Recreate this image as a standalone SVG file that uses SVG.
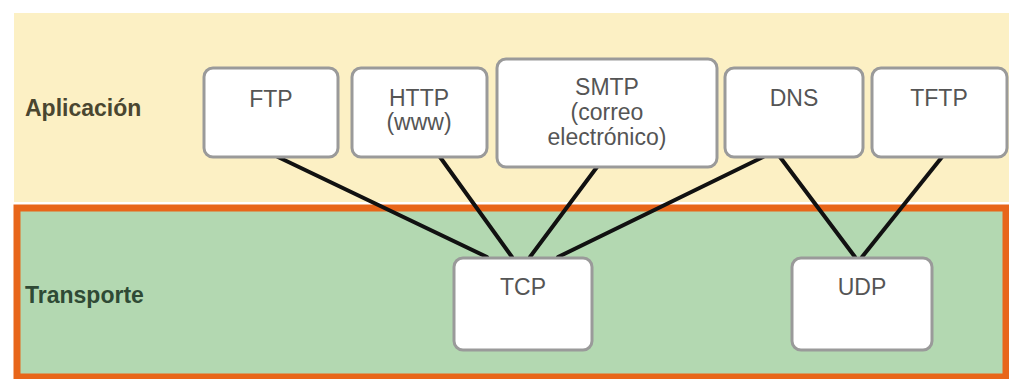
<svg xmlns="http://www.w3.org/2000/svg" width="1009" height="379" viewBox="0 0 1009 379">
<style>
.node rect{fill:#ffffff;stroke:#9a9a9a;stroke-width:3}
.lbl{font-family:"Liberation Sans",Arial,sans-serif;font-size:23px;fill:#555555;text-anchor:middle}
.layer{font-family:"Liberation Sans",Arial,sans-serif;font-size:23px;font-weight:bold}
.conn line{stroke:#111111;stroke-width:4;stroke-linecap:round}
</style>
<rect width="1009" height="379" fill="#ffffff"/>
<g id="layer-aplicacion">
<rect x="14" y="13" width="995" height="189" fill="#fcf0c4"/>
<text class="layer" x="25" y="116" fill="#4a4630">Aplicación</text>
</g>
<g id="layer-transporte">
<rect x="17" y="208" width="989" height="169" fill="#b3d8b1" stroke="#e8661a" stroke-width="7"/>
<text class="layer" x="25" y="303" fill="#2f4a35">Transporte</text>
</g>
<g id="connectors" class="conn">
<line x1="278" y1="157" x2="487" y2="257"/>
<line x1="440" y1="157" x2="512" y2="257"/>
<line x1="597" y1="167" x2="530" y2="257"/>
<line x1="763" y1="157" x2="558" y2="257"/>
<line x1="780" y1="157" x2="855" y2="257"/>
<line x1="942" y1="157" x2="862" y2="257"/>
</g>
<g id="ftp" class="node">
<rect x="204" y="68" width="134" height="89" rx="9"/>
<text class="lbl" x="271" y="107">FTP</text>
</g>
<g id="http" class="node">
<rect x="352" y="68" width="135" height="89" rx="9"/>
<text class="lbl" x="419" y="106">HTTP</text>
<text class="lbl" x="419" y="130">(www)</text>
</g>
<g id="smtp" class="node">
<rect x="497" y="59" width="220" height="108" rx="9"/>
<text class="lbl" x="607" y="95">SMTP</text>
<text class="lbl" x="607" y="120">(correo</text>
<text class="lbl" x="607" y="145">electrónico)</text>
</g>
<g id="dns" class="node">
<rect x="725" y="68" width="138" height="89" rx="9"/>
<text class="lbl" x="794" y="106">DNS</text>
</g>
<g id="tftp" class="node">
<rect x="872" y="68" width="135" height="89" rx="9"/>
<text class="lbl" x="939" y="106">TFTP</text>
</g>
<g id="tcp" class="node">
<rect x="454" y="258" width="138" height="92" rx="9"/>
<text class="lbl" x="523" y="295">TCP</text>
</g>
<g id="udp" class="node">
<rect x="792" y="258" width="140" height="92" rx="9"/>
<text class="lbl" x="862" y="295">UDP</text>
</g>
</svg>
